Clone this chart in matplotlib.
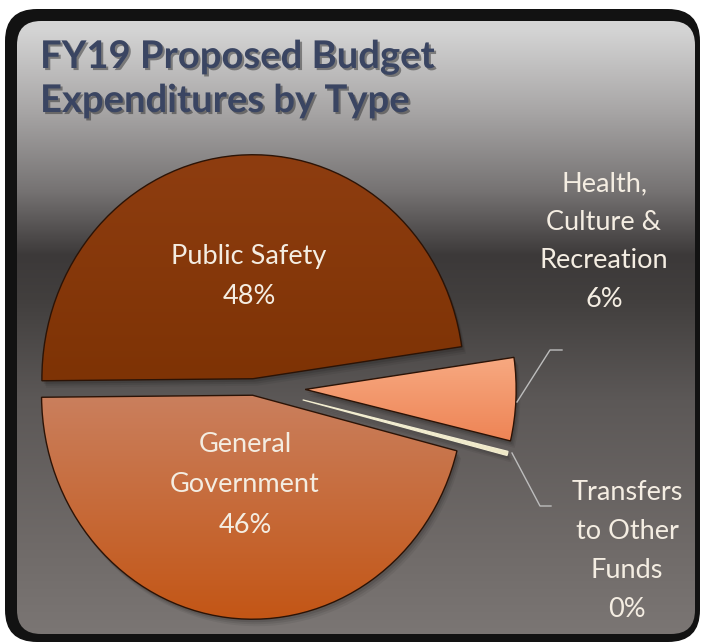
import numpy as np
import matplotlib
matplotlib.use("Agg")
import matplotlib.pyplot as plt
from matplotlib.patches import FancyBboxPatch, PathPatch
from matplotlib.transforms import Affine2D
import matplotlib.patheffects as pe
from matplotlib.colors import to_rgb

# ---- data ----
title_lines = ["FY19 Proposed Budget", "Expenditures by Type"]
categories = ["Health,\nCulture &\nRecreation", "Public Safety",
              "General\nGovernment", "Transfers\nto Other\nFunds"]
values = [6, 48, 46, 0.3]
pct_labels = ["6%", "48%", "46%", "0%"]

# ---- style ----
explode = [0.245, 0.037, 0.037, 0.24]
top_colors = ["#f7a981", "#8e3d10", "#ca7f5d", "#f8f4de"]
bottom_colors = ["#ee8455", "#7e3305", "#c35616", "#eee8c6"]
edge_colors = ["#2b1306", "#2b1306", "#2b1306", "#f2edd0"]
edge_widths = [1.0, 1.0, 1.0, 0.9]
text_color = "#f4ede2"
title_color = "#3a4562"
label_font = ["Lato", "DejaVu Sans"]

W, H = 701, 643
fig = plt.figure(figsize=(W / 100, H / 100), dpi=100)
fig.patch.set_facecolor("white")

# background panel (pixel coordinates, y down)
bg = fig.add_axes([0, 0, 1, 1])
bg.set_xlim(0, W)
bg.set_ylim(H, 0)
bg.axis("off")
outer = FancyBboxPatch((5, 9), 695, 633, boxstyle="round,pad=0,rounding_size=32",
                       fc="#121212", ec="none")
bg.add_patch(outer)
inner = FancyBboxPatch((17, 21), 678, 613, boxstyle="round,pad=0,rounding_size=24",
                       fc="none", ec="none")
bg.add_patch(inner)
stop_y = [0, 30, 110, 190, 255, 300, 400, 550, 643]
stop_c = [(216, 216, 216), (212, 212, 212), (168, 166, 166), (118, 115, 115),
          (60, 57, 57), (66, 63, 62), (92, 88, 87), (112, 107, 105), (124, 119, 117)]
rows = np.arange(H)
grad = np.zeros((H, 1, 3))
for k in range(3):
    grad[:, 0, k] = np.interp(rows, stop_y, [c[k] for c in stop_c]) / 255.0
im = bg.imshow(grad, extent=[0, W, H, 0], aspect="auto", interpolation="bilinear",
               zorder=1)
im.set_clip_path(inner)
bg.set_xlim(0, W)
bg.set_ylim(H, 0)

# ---- pie ----
ax = fig.add_axes([0, 0, 1, 1])
ax.patch.set_alpha(0)
cx, cy, rx, ry = 253.5, 387.0, 211.0, 224.0
wedges, _ = ax.pie(values, explode=explode, startangle=-13.3, counterclock=True)
for w, c1, c2, ec, lw in zip(wedges, top_colors, bottom_colors, edge_colors, edge_widths):
    path = w.get_path()
    # soft shadow
    for d, a in [(7, 0.06), (5, 0.08), (3, 0.10)]:
        sh = PathPatch(path, fc="black", ec="none", alpha=a, zorder=1,
                       transform=ax.transData + Affine2D().translate(d * 0.6, -d))
        ax.add_patch(sh)
    ext = path.get_extents()
    a1, a2 = np.array(to_rgb(c1)), np.array(to_rgb(c2))
    t = np.linspace(0, 1, 64)[:, None, None]
    g = a1 * (1 - t) + a2 * t
    gi = ax.imshow(g, extent=[ext.x0, ext.x1, ext.y0, ext.y1], aspect="auto",
                   interpolation="bilinear", zorder=2)
    gi.set_clip_path(w)
    w.set_facecolor("none")
    w.set_edgecolor(ec)
    w.set_linewidth(lw)
    w.set_zorder(3)
ax.set_aspect("auto")
ax.set_xlim(-cx / rx, (W - cx) / rx)
ax.set_ylim((cy - H) / ry, cy / ry)
ax.axis("off")

# ---- overlay text (pixel coordinates) ----
ov = fig.add_axes([0, 0, 1, 1])
ov.set_xlim(0, W)
ov.set_ylim(H, 0)
ov.axis("off")
ov.patch.set_alpha(0)

shadow = [pe.withSimplePatchShadow(offset=(1.5, -1.5), shadow_rgbFace="#202020", alpha=0.45)]
for i, line in enumerate(title_lines):
    ov.text(40, 68 + 44 * i, line, fontsize=27.5, fontweight="bold", color=title_color,
            family=label_font, ha="left", va="baseline", path_effects=shadow)

label_pos = [(604, 191, 38.7), (249, 264, 40.0), (245, 452, 40.5), (627, 500, 39.0)]
for cat, pct, (x, y0, dy) in zip(categories, pct_labels, label_pos):
    for j, line in enumerate(cat.split("\n") + [pct]):
        ov.text(x, y0 + j * dy, line, fontsize=19.5, color=text_color, family=label_font,
                ha="center", va="baseline")

# leader lines
ov.plot([517, 550, 562], [402, 350, 350], color="#bdbdbd", lw=1.0)
ov.plot([512, 540, 551], [453, 506, 506], color="#bdbdbd", lw=1.0)

fig.savefig("out.png", dpi=100, facecolor="white")
